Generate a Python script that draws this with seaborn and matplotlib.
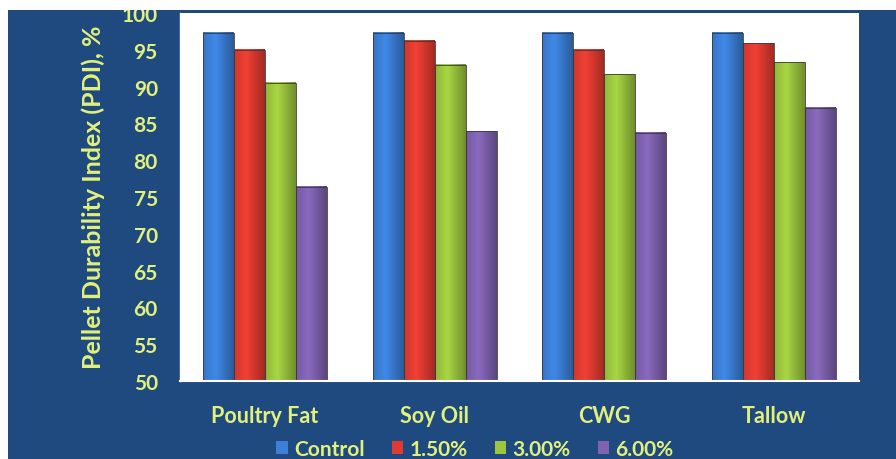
import matplotlib
matplotlib.use("Agg")
import matplotlib.pyplot as plt
from matplotlib.patches import Rectangle, Patch
from matplotlib.colors import to_rgb
import numpy as np
import seaborn as sns
import pandas as pd

# Pellet durability by fat source and inclusion level
fat_sources = ["Poultry Fat", "Soy Oil", "CWG", "Tallow"]
levels = ["Control", "1.50%", "3.00%", "6.00%"]
control = [97.3, 97.3, 97.3, 97.3]
pct_150 = [95.0, 96.2, 95.0, 95.9]
pct_300 = [90.5, 93.0, 91.7, 93.3]
pct_600 = [76.4, 83.9, 83.7, 87.1]
y_ticks = list(range(50, 101, 5))
y_min, y_max = 50, 100

rows = []
for lvl, vals in zip(levels, [control, pct_150, pct_300, pct_600]):
    for src, v in zip(fat_sources, vals):
        rows.append({"Fat": src, "Level": lvl, "PDI": v})
df = pd.DataFrame(rows)

bg = "#1f4a7f"
txt = "#e2f07c"
palette = ["#3b7fd6", "#e03b30", "#9cc63e", "#7f62b0"]

sns.set_theme(style="white")
plt.rcParams["font.family"] = ["Lato", "DejaVu Sans"]

fig = plt.figure(figsize=(8.96, 4.6), dpi=100, facecolor=bg)
ax = fig.add_axes([180 / 896, 1 - 382 / 460, 679 / 896, 368 / 460])
ax.set_facecolor("white")

sns.barplot(data=df, x="Fat", y="PDI", hue="Level", order=fat_sources,
            hue_order=levels, palette=palette, width=0.73, saturation=1,
            edgecolor="#3a3a3a", linewidth=0.6, legend=False, ax=ax)

# Soft cylindrical shading across each bar (kept inside the visible y range)
shade = np.concatenate([np.linspace(0.92, 1.08, 40), np.linspace(1.08, 0.72, 60)])
for bar in list(ax.patches):
    w, h = bar.get_width(), bar.get_height()
    if w <= 0 or h <= 0:
        continue
    base = np.array(to_rgb(bar.get_facecolor()))
    grad = np.clip(base[None, None, :] * shade[None, :, None], 0, 1)
    x0 = bar.get_x()
    y0 = max(bar.get_y(), y_min)
    y1 = min(bar.get_y() + h, y_max)
    im = ax.imshow(grad, extent=[x0, x0 + w, y0, y1], aspect="auto",
                   origin="lower", interpolation="bilinear", zorder=bar.get_zorder())
    bar.set_facecolor("none")
    bar.set_zorder(bar.get_zorder() + 0.1)

ax.set_ylim(y_min, y_max)
ax.set_yticks(y_ticks)
ax.set_xlim(-0.5, 3.5)
ax.set_xlabel("")
ax.set_ylabel("")

for s in ["top", "right"]:
    ax.spines[s].set_visible(False)
ax.spines["left"].set_color("white")
ax.spines["bottom"].set_color("white")
ax.spines["left"].set_linewidth(1.0)
ax.spines["bottom"].set_linewidth(1.5)
ax.spines["bottom"].set_zorder(5)

ax.tick_params(axis="y", colors=txt, labelsize=15, length=5, width=1,
               color="white", direction="out", pad=11)
for lab in ax.get_yticklabels():
    lab.set_fontweight("bold")

# Category labels centred, tick marks between groups
ax.set_xticks(range(len(fat_sources)))
ax.set_xticklabels(fat_sources)
ax.tick_params(axis="x", which="major", length=0, colors=txt, labelsize=15.5, pad=17)
for lab in ax.get_xticklabels():
    lab.set_fontweight("bold")
ax.set_xticks([0.5, 1.5, 2.5, 3.5], minor=True)
ax.tick_params(axis="x", which="minor", length=5, width=1, color="white",
               direction="out")

fig.text(93 / 896, 1 - 197 / 460, "Pellet Durability Index (PDI), %",
         rotation=90, ha="center", va="center", color=txt,
         fontsize=18, fontweight="bold")

handles = [Patch(facecolor=c, edgecolor="none") for c in palette]
ax.legend(handles, levels, loc="center", bbox_to_anchor=(475 / 896, 1 - 450 / 460),
          bbox_transform=fig.transFigure, ncol=4, frameon=False,
          handlelength=0.55, handleheight=0.55, handletextpad=0.3,
          columnspacing=1.3, labelcolor=txt, prop={"size": 15, "weight": "bold"})

# Light page margins at top and left
fig.add_artist(Rectangle((0, 1 - 11 / 460), 1, 11 / 460, transform=fig.transFigure,
                         facecolor="white", edgecolor="none", zorder=10))
fig.add_artist(Rectangle((0, 0), 8 / 896, 1, transform=fig.transFigure,
                         facecolor="white", edgecolor="none", zorder=10))

fig.savefig("out.png", dpi=100, facecolor=bg)
